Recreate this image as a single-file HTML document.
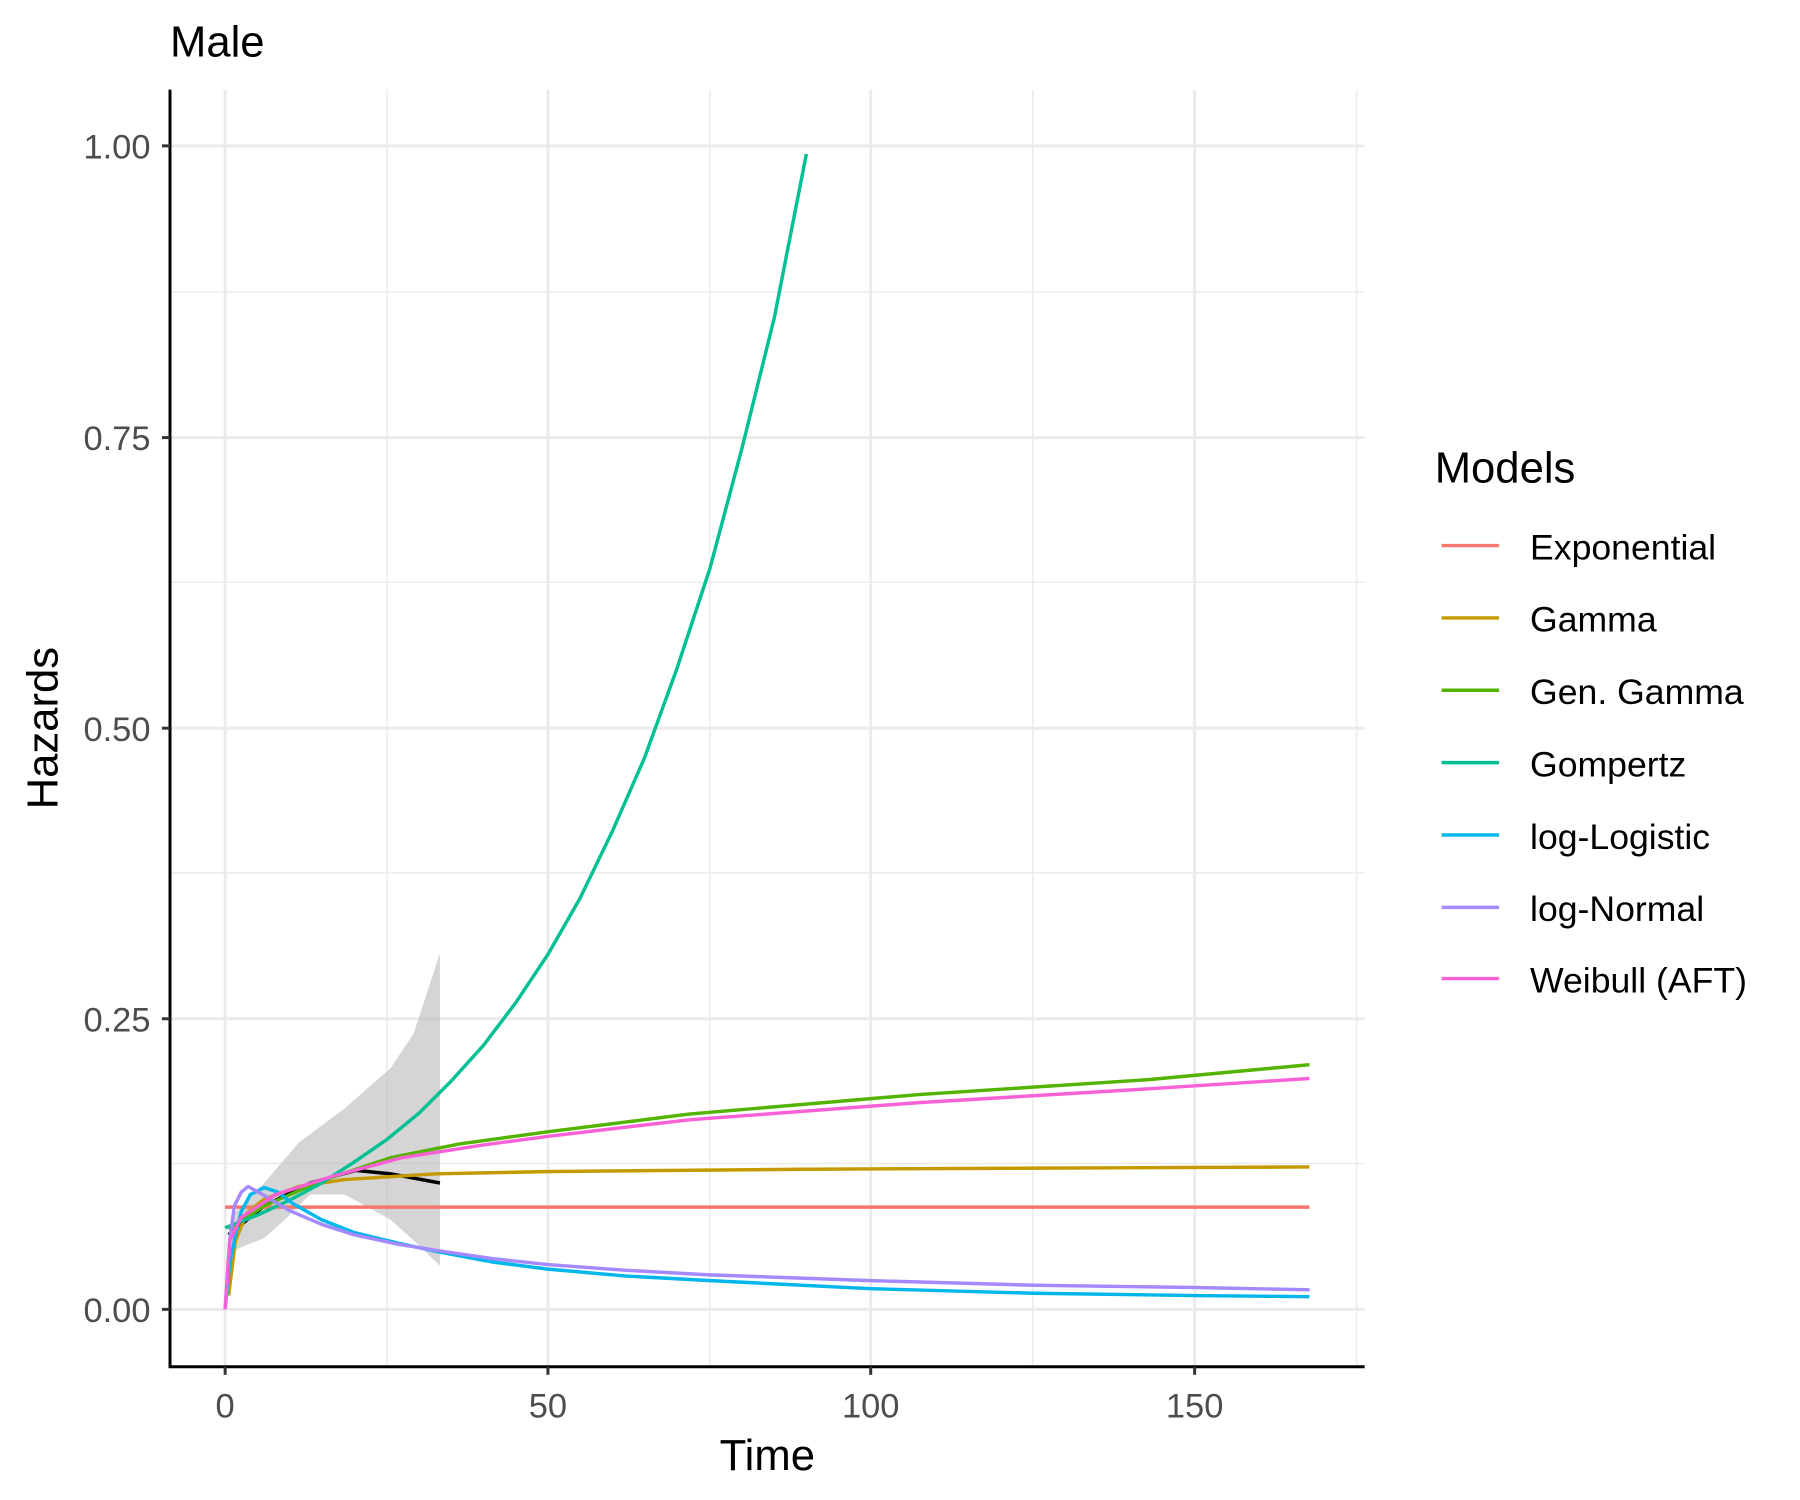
<!DOCTYPE html>
<html><head><meta charset="utf-8"><style>html,body{margin:0;padding:0;background:#fff}svg{display:block}</style></head>
<body>
<svg width="1800" height="1500" viewBox="0 0 1567 1306" preserveAspectRatio="none" xmlns="http://www.w3.org/2000/svg" font-family="Liberation Sans, Arial, sans-serif">
<rect width="1567" height="1306" fill="#fff"/>
<g stroke="#ebebeb" stroke-width="1.3">
<line x1="148" x2="1188" y1="1013" y2="1013"/><line x1="148" x2="1188" y1="760" y2="760"/><line x1="148" x2="1188" y1="507" y2="507"/><line x1="148" x2="1188" y1="254" y2="254"/>
<line x1="337" x2="337" y1="78" y2="1190"/><line x1="618" x2="618" y1="78" y2="1190"/><line x1="899" x2="899" y1="78" y2="1190"/><line x1="1181" x2="1181" y1="78" y2="1190"/>
</g>
<g stroke="#ebebeb" stroke-width="2.6">
<line x1="148" x2="1188" y1="1140" y2="1140"/><line x1="148" x2="1188" y1="887" y2="887"/><line x1="148" x2="1188" y1="634" y2="634"/><line x1="148" x2="1188" y1="381" y2="381"/><line x1="148" x2="1188" y1="127" y2="127"/>
<line x1="196" x2="196" y1="78" y2="1190"/><line x1="477" x2="477" y1="78" y2="1190"/><line x1="758" x2="758" y1="78" y2="1190"/><line x1="1040" x2="1040" y1="78" y2="1190"/>
</g>
<path d="M199,1080 L205,1055 L230,1030 L260,995 L300,965 L340,930 L360,900 L383,830 L383,1102 L360,1080 L340,1062 L300,1040 L270,1040 L250,1060 L230,1078 L205,1088 Z" fill="#b3b3b3" fill-opacity="0.55"/>
<g fill="none" stroke-width="3" stroke-linejoin="round">
<path stroke="#000" d="M199,1075 L230,1050 L270,1030 L310,1019 L340,1022 L383,1030"/>
<path stroke="#F8766D" d="M196,1051 L1140,1051"/>
<path stroke="#C49A00" d="M199,1128 L205,1080 L215,1056 L230,1044 L260,1033 L300,1027 L380,1022 L480,1020 L700,1018 L1140,1016"/>
<path stroke="#53B400" d="M199,1070 L230,1050 L280,1028 L340,1008 L400,996 L480,985 L600,970 L800,953 L1000,940 L1140,927"/>
<path stroke="#00C094" d="M196,1069 L224,1058 L252,1045 L280,1030 L308,1012 L337,992 L365,969 L393,941 L421,910 L449,873 L477,831 L505,782 L533,724 L561,660 L589,583 L618,495 L646,390 L674,277 L702,134"/>
<path stroke="#00B6EB" d="M196,1140 L200,1100 L205,1075 L210,1055 L218,1040 L230,1034 L242,1038 L255,1048 L280,1062 L308,1073 L345,1082 L382,1090 L430,1099 L477,1105 L545,1111 L618,1115 L758,1122 L900,1126 L1040,1128 L1140,1129"/>
<path stroke="#A58AFF" d="M196,1140 L200,1080 L204,1050 L210,1038 L216,1033 L232,1042 L252,1054 L280,1066 L308,1075 L345,1083 L382,1089 L430,1096 L477,1101 L545,1106 L618,1110 L758,1115 L900,1119 L1040,1121 L1140,1123"/>
<path stroke="#FB61D7" d="M196,1140 L200,1080 L210,1060 L240,1040 L290,1024 L350,1008 L420,997 L480,989 L600,975 L800,960 L1000,948 L1140,939"/>
</g>
<g stroke="#000" stroke-width="2.6"><line x1="148" x2="148" y1="78" y2="1191"/><line x1="147" x2="1188" y1="1190" y2="1190"/></g>
<g stroke="#333" stroke-width="2.6">
<line x1="141" x2="148" y1="1140" y2="1140"/><line x1="141" x2="148" y1="887" y2="887"/><line x1="141" x2="148" y1="634" y2="634"/><line x1="141" x2="148" y1="381" y2="381"/><line x1="141" x2="148" y1="127" y2="127"/>
<line x1="196" x2="196" y1="1190" y2="1197"/><line x1="477" x2="477" y1="1190" y2="1197"/><line x1="758" x2="758" y1="1190" y2="1197"/><line x1="1040" x2="1040" y1="1190" y2="1197"/>
</g>
<g fill="#4d4d4d" font-size="30" text-anchor="end">
<text x="131" y="1151">0.00</text><text x="131" y="898">0.25</text><text x="131" y="645">0.50</text><text x="131" y="392">0.75</text><text x="131" y="138">1.00</text>
</g>
<g fill="#4d4d4d" font-size="30" text-anchor="middle">
<text x="196" y="1234">0</text><text x="477" y="1234">50</text><text x="758" y="1234">100</text><text x="1040" y="1234">150</text>
</g>
<text x="668" y="1280" font-size="38" text-anchor="middle">Time</text>
<text transform="translate(50,634) rotate(-90)" font-size="38" text-anchor="middle">Hazards</text>
<text x="148" y="49" font-size="38">Male</text>
<text x="1249" y="420" font-size="38">Models</text>
<g stroke-width="3">
<line x1="1255" x2="1305" y1="475" y2="475" stroke="#F8766D"/>
<line x1="1255" x2="1305" y1="538" y2="538" stroke="#C49A00"/>
<line x1="1255" x2="1305" y1="601" y2="601" stroke="#53B400"/>
<line x1="1255" x2="1305" y1="664" y2="664" stroke="#00C094"/>
<line x1="1255" x2="1305" y1="727" y2="727" stroke="#00B6EB"/>
<line x1="1255" x2="1305" y1="790" y2="790" stroke="#A58AFF"/>
<line x1="1255" x2="1305" y1="852" y2="852" stroke="#FB61D7"/>
</g>
<g font-size="31">
<text x="1332" y="487">Exponential</text><text x="1332" y="550">Gamma</text><text x="1332" y="613">Gen. Gamma</text><text x="1332" y="676">Gompertz</text><text x="1332" y="739">log-Logistic</text><text x="1332" y="802">log-Normal</text><text x="1332" y="864">Weibull (AFT)</text>
</g>
</svg>
</body></html>
